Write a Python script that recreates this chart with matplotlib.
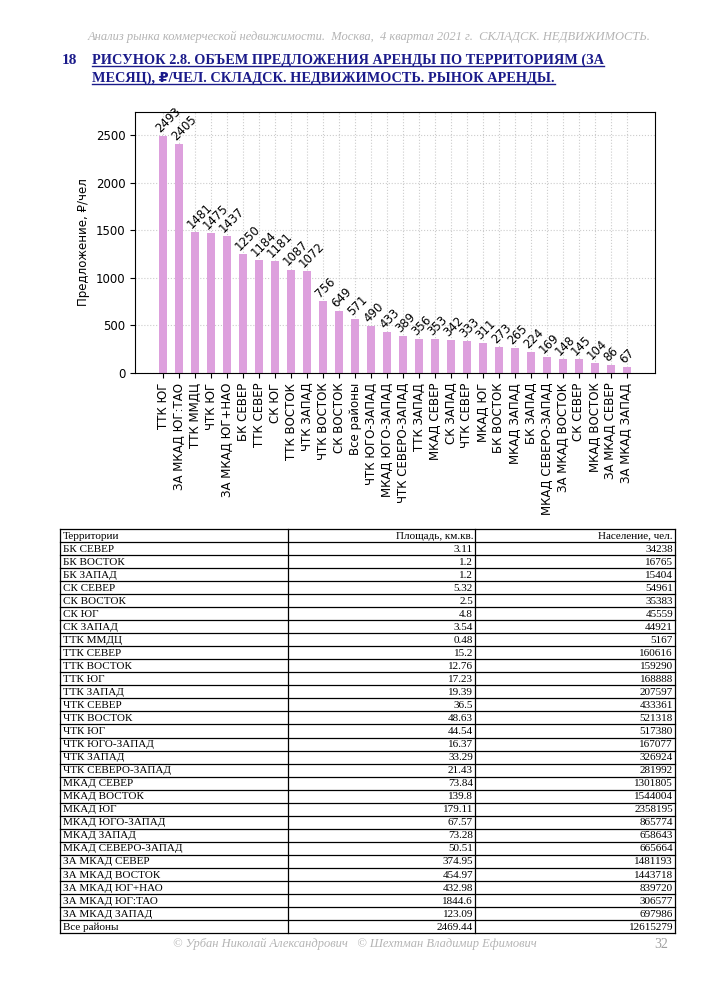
import numpy as np
import matplotlib
matplotlib.use('Agg')
import matplotlib.pyplot as plt
from matplotlib.lines import Line2D

# bar chart data
territories = ['ТТК ЮГ', 'ЗА МКАД ЮГ:ТАО', 'ТТК ММДЦ', 'ЧТК ЮГ', 'ЗА МКАД ЮГ+НАО', 'БК СЕВЕР', 'ТТК СЕВЕР',
               'СК ЮГ', 'ТТК ВОСТОК', 'ЧТК ЗАПАД', 'ЧТК ВОСТОК', 'СК ВОСТОК', 'Все районы', 'ЧТК ЮГО-ЗАПАД',
               'МКАД ЮГО-ЗАПАД', 'ЧТК СЕВЕРО-ЗАПАД', 'ТТК ЗАПАД', 'МКАД СЕВЕР', 'СК ЗАПАД', 'ЧТК СЕВЕР',
               'МКАД ЮГ', 'БК ВОСТОК', 'МКАД ЗАПАД', 'БК ЗАПАД', 'МКАД СЕВЕРО-ЗАПАД', 'ЗА МКАД ВОСТОК',
               'СК СЕВЕР', 'МКАД ВОСТОК', 'ЗА МКАД СЕВЕР', 'ЗА МКАД ЗАПАД']
supply = [2493, 2405, 1481, 1475, 1437, 1250, 1184, 1181, 1087, 1072, 756, 649, 571, 490,
          433, 389, 356, 353, 342, 333, 311, 273, 265, 224, 169, 148, 145, 104, 86, 67]

# table data
table_header = ['Территории', 'Площадь, км.кв.', 'Население, чел.']
table_names = ['БК СЕВЕР', 'БК ВОСТОК', 'БК ЗАПАД', 'СК СЕВЕР', 'СК ВОСТОК', 'СК ЮГ', 'СК ЗАПАД', 'ТТК ММДЦ',
               'ТТК СЕВЕР', 'ТТК ВОСТОК', 'ТТК ЮГ', 'ТТК ЗАПАД', 'ЧТК СЕВЕР', 'ЧТК ВОСТОК', 'ЧТК ЮГ',
               'ЧТК ЮГО-ЗАПАД', 'ЧТК ЗАПАД', 'ЧТК СЕВЕРО-ЗАПАД', 'МКАД СЕВЕР', 'МКАД ВОСТОК', 'МКАД ЮГ',
               'МКАД ЮГО-ЗАПАД', 'МКАД ЗАПАД', 'МКАД СЕВЕРО-ЗАПАД', 'ЗА МКАД СЕВЕР', 'ЗА МКАД ВОСТОК',
               'ЗА МКАД ЮГ+НАО', 'ЗА МКАД ЮГ:ТАО', 'ЗА МКАД ЗАПАД', 'Все районы']
table_area = ['3.11', '1.2', '1.2', '5.32', '2.5', '4.8', '3.54', '0.48', '15.2', '12.76', '17.23', '19.39',
              '36.5', '48.63', '44.54', '16.37', '33.29', '21.43', '73.84', '139.8', '179.11', '67.57',
              '73.28', '50.51', '374.95', '454.97', '432.98', '1844.6', '123.09', '2469.44']
table_people = ['34238', '16765', '15404', '54961', '35383', '45559', '44921', '5167', '160616', '159290',
                '168888', '207597', '433361', '521318', '517380', '167077', '326924', '281992', '1301805',
                '1544004', '2358195', '865774', '658643', '665664', '1481193', '1443718', '839720', '306577',
                '697986', '12615279']

W, H = 707, 993
fig = plt.figure(figsize=(W / 100, H / 100), dpi=100)
serif = 'Liberation Serif'

# page header / title / footer
fig.text(88 / W, 1 - 37 / H, 'Анализ рынка коммерческой недвижимости.  Москва,  4 квартал 2021 г.  СКЛАДСК. НЕДВИЖИМОСТЬ.',
         family=serif, style='italic', fontsize=9.0, color='#b4b4b4', va='center', ha='left')
title_color = '#1a1a8a'
fig.text(62 / W, 1 - 60 / H, '18', family=serif, weight='bold', fontsize=11, color=title_color,
         va='center', ha='left')
title_lines = ['РИСУНОК 2.8. ОБЪЕМ ПРЕДЛОЖЕНИЯ АРЕНДЫ ПО ТЕРРИТОРИЯМ (ЗА',
               'МЕСЯЦ), ₽/ЧЕЛ. СКЛАДСК. НЕДВИЖИМОСТЬ. РЫНОК АРЕНДЫ.']
title_texts = []
for i, line in enumerate(title_lines):
    t = fig.text(92 / W, 1 - (60 + 18 * i) / H, line, family=[serif, 'DejaVu Sans'], weight='bold',
                 fontsize=10.3, color=title_color, va='center', ha='left')
    title_texts.append(t)

fig.text(173 / W, 1 - 944 / H, '© Урбан Николай Александрович   © Шехтман Владимир Ефимович',
         family=serif, style='italic', fontsize=9.0, color='#b4b4b4', va='center', ha='left')
fig.text(668 / W, 1 - 944 / H, '32', family=serif, fontsize=10, color='#a0a0a0', va='center', ha='right')

# bar chart
ax = fig.add_axes([135 / W, 1 - 373 / H, 520 / W, 261 / H])
x = np.arange(len(territories))
ax.bar(x, supply, width=0.55, color='plum', zorder=2)
for xi, v in zip(x, supply):
    ax.text(xi - 0.05, v + 10, str(v), rotation=45, ha='left', va='bottom', rotation_mode='anchor',
            fontsize=8.5, zorder=3)
ax.set_ylim(0, max(supply) * 1.1)
ax.set_xticks(x)
ax.set_xticklabels(territories, rotation=90, fontsize=8.5)
ax.set_yticks([0, 500, 1000, 1500, 2000, 2500])
ax.tick_params(axis='y', labelsize=8.5)
ax.set_ylabel('Предложение, ₽/чел', fontsize=8.5)
ax.grid(True, linestyle=':', color='#cccccc', linewidth=0.8, zorder=0)
ax.set_axisbelow(True)

# table
tax = fig.add_axes([60 / W, 1 - 933 / H, 615 / W, 404 / H])
n_rows = len(table_names) + 1
tax.set_xlim(60, 675)
tax.set_ylim(n_rows, 0)
tax.axis('off')
col_edges = [60, 288, 475, 675]
for r in range(n_rows + 1):
    tax.plot([60, 675], [r, r], color='black', linewidth=0.9, clip_on=False)
for cx in col_edges:
    tax.plot([cx, cx], [0, n_rows], color='black', linewidth=0.9, clip_on=False)
rows = [table_header] + [[n, a, p] for n, a, p in zip(table_names, table_area, table_people)]
for r, row in enumerate(rows):
    yc = r + 0.55
    tax.text(col_edges[0] + 3, yc, row[0], family=serif, fontsize=8, ha='left', va='center')
    tax.text(col_edges[2] - 2, yc, row[1], family=serif, fontsize=8, ha='right', va='center')
    tax.text(col_edges[3] - 2, yc, row[2], family=serif, fontsize=8, ha='right', va='center')

# underline the title
fig.canvas.draw()
renderer = fig.canvas.get_renderer()
inv = fig.transFigure.inverted()
for t in title_texts:
    bb = t.get_window_extent(renderer)
    (x0, y0), (x1, y1) = inv.transform([(bb.x0, bb.y0), (bb.x1, bb.y1)])
    fig.add_artist(Line2D([x0, x1], [y0 + 0.001, y0 + 0.001], transform=fig.transFigure,
                          color=title_color, linewidth=1.0))

fig.savefig('out.png', dpi=100)
